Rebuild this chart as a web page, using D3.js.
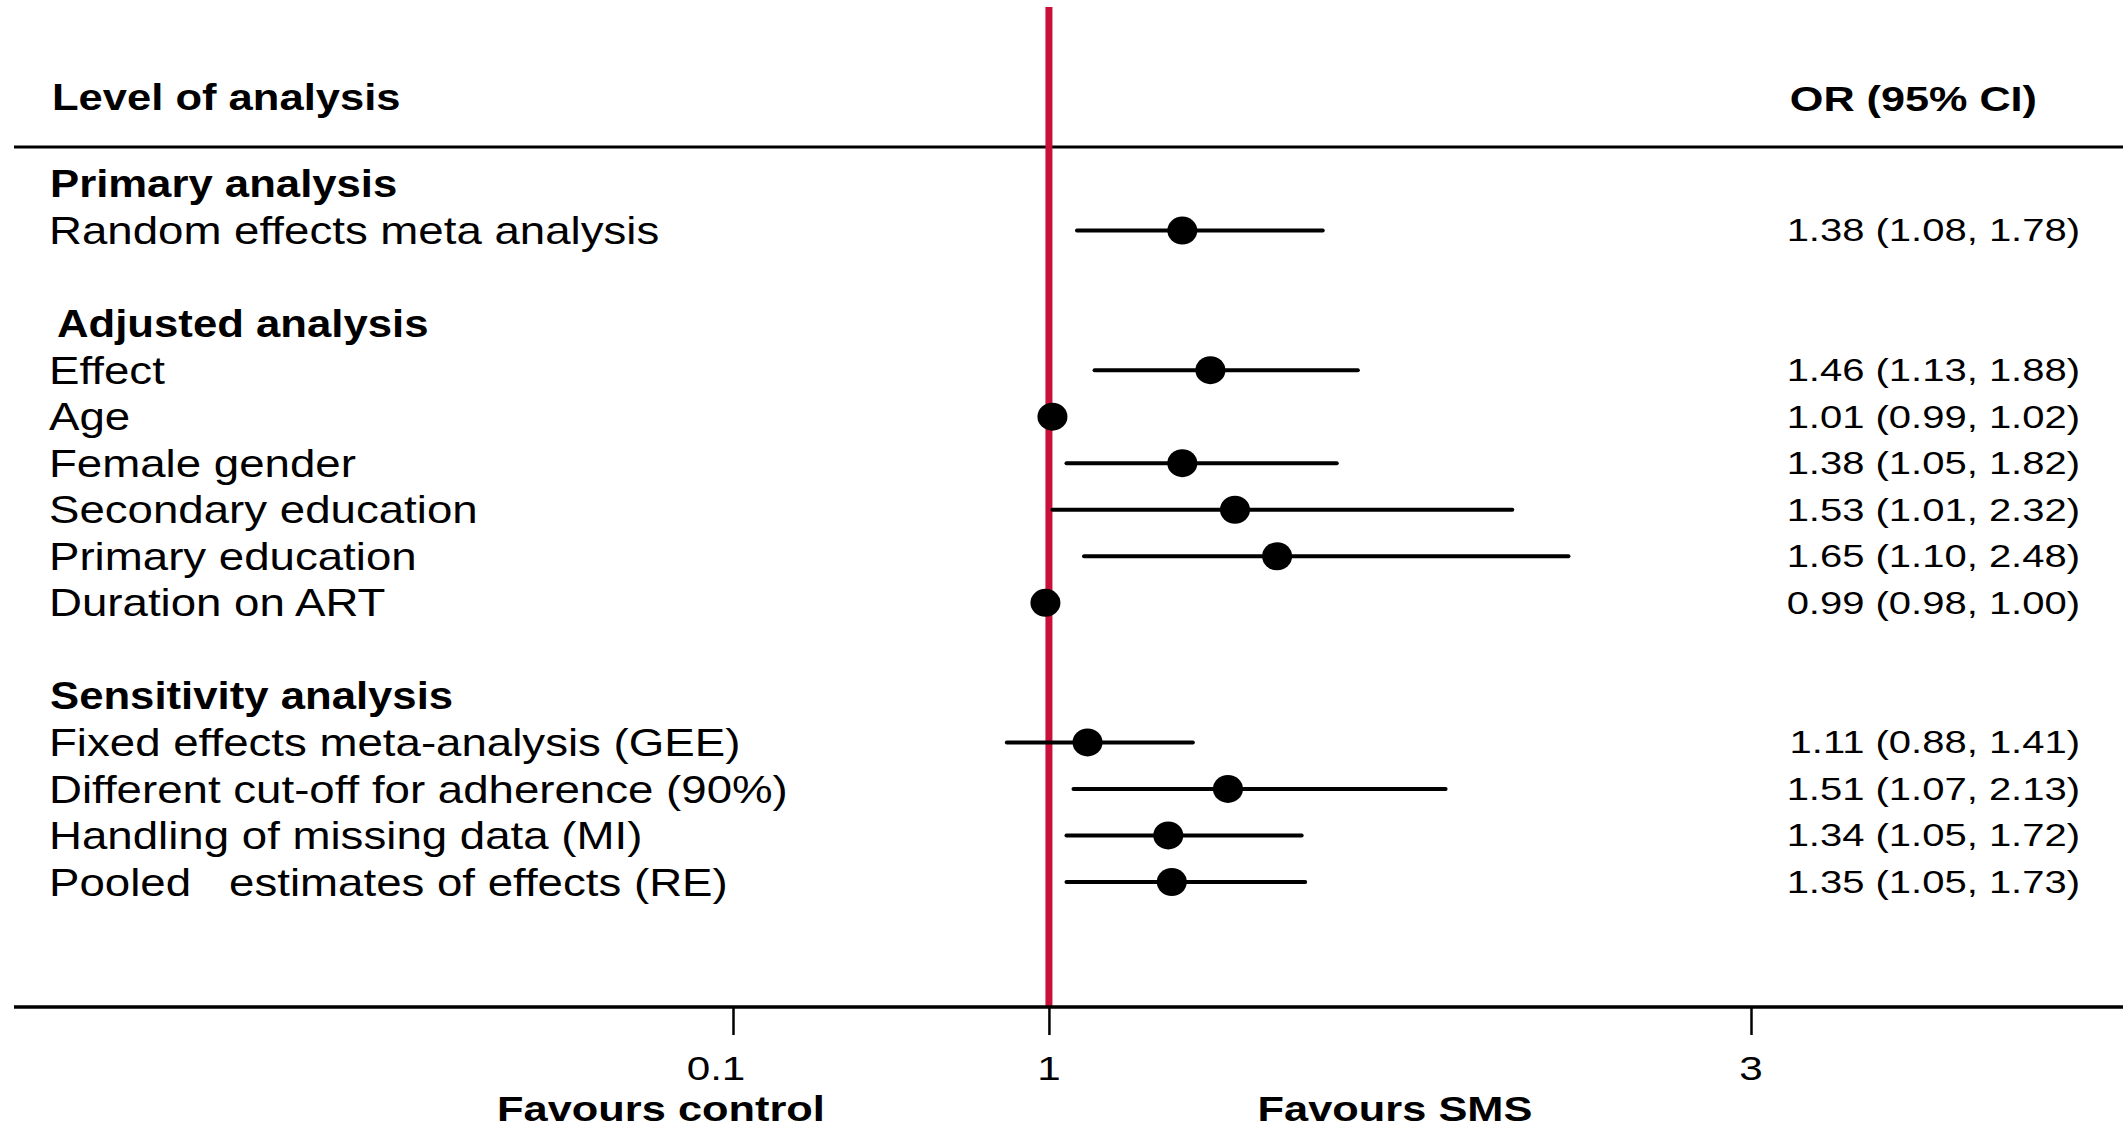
<!DOCTYPE html>
<html>
<head>
<meta charset="utf-8">
<script src="https://cdn.jsdelivr.net/npm/d3@7"></script>
<style>
  body { margin: 0; background: #fff; }
  text { font-family: "Liberation Sans", Arial, sans-serif; fill: #000; white-space: pre; }
</style>
</head>
<body>
<script>
// group headers and the row they sit on
var groups = ["Primary analysis", "Adjusted analysis", "Sensitivity analysis"];
var groupRow = [0, 3, 11];

// study rows
var studies = ["Random effects meta analysis", "Effect", "Age", "Female gender",
  "Secondary education", "Primary education", "Duration on ART",
  "Fixed effects meta-analysis (GEE)", "Different cut-off for adherence (90%)",
  "Handling of missing data (MI)", "Pooled   estimates of effects (RE)"];
var studyRow = [1, 4, 5, 6, 7, 8, 9, 12, 13, 14, 15];

var orValue = [1.38, 1.46, 1.01, 1.38, 1.53, 1.65, 0.99, 1.11, 1.51, 1.34, 1.35];
var ciLower = [1.08, 1.13, 0.99, 1.05, 1.01, 1.10, 0.98, 0.88, 1.07, 1.05, 1.05];
var ciUpper = [1.78, 1.88, 1.02, 1.82, 2.32, 2.48, 1.00, 1.41, 2.13, 1.72, 1.73];

var xTicks = [0.1, 1, 3];
var xTickLabels = ["0.1", "1", "3"];

var width = 2123, height = 1127;
var fmt = d3.format(".2f");

var svg = d3.select("body").append("svg")
    .attr("width", width)
    .attr("height", height);

// scales
var x = d3.scaleLinear().domain([0.1, 3]).range([733, 1751]);
var y = d3.scaleLinear().domain([0, 15]).range([184, 882]);
var axisY = 1007;

// text with a horizontal stretch, like the original
function label(tx, ty, str, size, sx, anchor, bold) {
  svg.append("text")
      .attr("transform", "translate(" + tx + "," + ty + ") scale(" + sx + ",1)")
      .attr("dy", "0.35em")
      .attr("text-anchor", anchor)
      .style("font-size", size + "px")
      .style("font-weight", bold ? "bold" : "normal")
      .text(str);
}

// header
label(52, 97, "Level of analysis", 36, 1.21, "start", true);
label(2037, 98, "OR (95% CI)", 36, 1.2, "end", true);

svg.append("line")
    .attr("x1", 14).attr("x2", width)
    .attr("y1", 147).attr("y2", 147)
    .attr("stroke", "#000").attr("stroke-width", 3);

// line of no effect
svg.append("line")
    .attr("x1", x(1)).attr("x2", x(1))
    .attr("y1", 7).attr("y2", axisY)
    .attr("stroke", "#c8103a").attr("stroke-width", 7);

// bottom axis
var axis = svg.append("g")
    .attr("transform", "translate(0," + axisY + ")")
    .call(d3.axisBottom(x).tickValues(xTicks).tickSize(28).tickFormat(""));
axis.select(".domain").remove();
axis.selectAll(".tick line").attr("stroke", "#000").attr("stroke-width", 2.5);

svg.append("line")
    .attr("x1", 14).attr("x2", width)
    .attr("y1", axisY).attr("y2", axisY)
    .attr("stroke", "#000").attr("stroke-width", 3.5);

xTicks.forEach(function(t, i) {
  label(x(t) - (i === 0 ? 17 : 0), 1068, xTickLabels[i], 33, 1.28, "middle", false);
});

label(661, 1109, "Favours control", 35, 1.24, "middle", true);
label(1395, 1109, "Favours SMS", 35, 1.24, "middle", true);

// group headers
groups.forEach(function(g, i) {
  label(i === 1 ? 57 : 50, y(groupRow[i]), g, 38, 1.15, "start", true);
});

// study labels and values
studies.forEach(function(s, i) {
  label(49, y(studyRow[i]), s, 39, 1.17, "start", false);
  label(2080, y(studyRow[i]), fmt(orValue[i]) + " (" + fmt(ciLower[i]) + ", " + fmt(ciUpper[i]) + ")",
    31, 1.29, "end", false);
});

// confidence intervals
svg.selectAll(".ci")
    .data(studies)
  .enter().append("line")
    .attr("class", "ci")
    .attr("x1", function(d, i) { return x(ciLower[i]); })
    .attr("x2", function(d, i) { return x(ciUpper[i]); })
    .attr("y1", function(d, i) { return y(studyRow[i]); })
    .attr("y2", function(d, i) { return y(studyRow[i]); })
    .attr("stroke", "#000")
    .attr("stroke-width", 4)
    .attr("stroke-linecap", "round");

// point estimates
svg.selectAll(".pt")
    .data(studies)
  .enter().append("ellipse")
    .attr("class", "pt")
    .attr("cx", function(d, i) { return x(orValue[i]); })
    .attr("cy", function(d, i) { return y(studyRow[i]); })
    .attr("rx", 15)
    .attr("ry", 14)
    .attr("fill", "#000");
</script>
</body>
</html>
